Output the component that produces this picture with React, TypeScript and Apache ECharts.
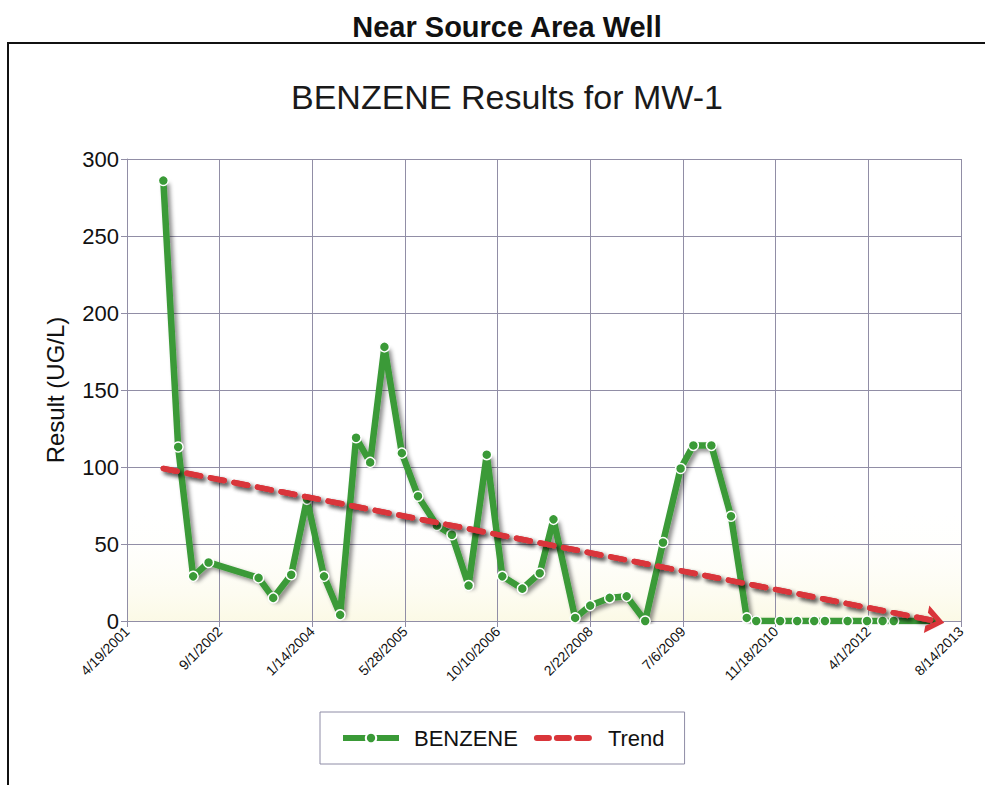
import React, { useEffect, useRef } from "react";
import * as echarts from "echarts";

// Sampling dates (M/D/YYYY) and benzene results (UG/L)
const sampleDates = [
  "2001-11-01", "2002-01-20", "2002-04-11", "2002-07-03", "2003-03-30", "2003-06-17",
  "2003-09-22", "2003-12-16", "2004-03-17", "2004-06-12", "2004-09-06", "2004-11-21",
  "2005-02-06", "2005-05-11", "2005-08-06", "2005-11-16", "2006-02-05", "2006-05-06",
  "2006-08-12", "2006-11-04", "2007-02-20", "2007-05-25", "2007-08-07", "2007-12-02",
  "2008-02-21", "2008-06-05", "2008-09-05", "2008-12-14", "2009-03-20", "2009-06-23",
  "2009-08-31", "2009-12-06", "2010-03-22", "2010-06-15", "2010-08-05", "2010-12-12",
  "2011-03-14", "2011-06-14", "2011-08-11", "2011-12-11", "2012-03-25", "2012-06-17",
  "2012-08-16", "2013-03-29",
];
const benzene = [
  286, 113, 29, 38, 28, 15,
  30, 79, 29, 4, 119, 103,
  178, 109, 81, 62, 56, 23,
  108, 29, 21, 31, 66, 2,
  10, 15, 16, 0, 51, 99,
  114, 114, 68, 2, 0, 0,
  0, 0, 0, 0, 0, 0,
  0, 0,
];
const trendDates = ["2001-11-01", "2013-03-29"];
const trendValues = [99, 0];

const xTickLabels = [
  "4/19/2001", "9/1/2002", "1/14/2004", "5/28/2005", "10/10/2006",
  "2/22/2008", "7/6/2009", "11/18/2010", "4/1/2012", "8/14/2013",
];
const yTicks = [0, 50, 100, 150, 200, 250, 300];

const START = Date.UTC(2001, 3, 19);
const DAY = 86400000;
const TICK_DAYS = 500;

function toDays(s: string): number {
  const [y, m, d] = s.split("-").map(Number);
  return Math.round((Date.UTC(y, m - 1, d) - START) / DAY);
}

const FONT = "'Liberation Sans', Arial, Helvetica, sans-serif";
const GREEN = "#3a9a37";
const RED = "#d9353a";
const GRIDC = "#918ea6";

export default function App() {
  const ref = useRef<HTMLDivElement>(null);
  useEffect(() => {
    if (!ref.current) return;
    const chart = echarts.init(ref.current, undefined, { renderer: "svg" });
    const benzeneData = sampleDates.map((d, i) => [toDays(d), benzene[i]]);
    const trendData = trendDates.map((d, i) => [toDays(d), trendValues[i]]);
    const lineShadow = {
      shadowColor: "rgba(0,0,0,0.45)",
      shadowBlur: 4,
      shadowOffsetX: 3,
      shadowOffsetY: 3,
    };
    chart.setOption({
      animation: false,
      backgroundColor: "#ffffff",
      textStyle: { fontFamily: FONT },
      title: [
        {
          text: "Near Source Area Well",
          left: 502,
          top: 7,
          textAlign: "center",
          textStyle: { fontFamily: FONT, fontSize: 29, fontWeight: "bold", color: "#111" },
        },
        {
          text: "BENZENE Results for MW-1",
          left: 502,
          top: 75,
          textAlign: "center",
          textStyle: { fontFamily: FONT, fontSize: 34, fontWeight: "normal", color: "#1a1a1a" },
        },
      ],
      graphic: [
        {
          type: "rect",
          shape: { x: 8, y: 43, width: 1000, height: 800 },
          style: { fill: "none", stroke: "#111", lineWidth: 2 },
          silent: true,
          z: -1,
        },
      ],
      legend: {
        left: 320,
        top: 712,
        padding: [15, 20, 15, 20],
        borderColor: "#8e8ca6",
        borderWidth: 1,
        itemWidth: 56,
        itemHeight: 13,
        itemGap: 16,
        textStyle: { fontFamily: FONT, fontSize: 22, color: "#111", padding: [0, 0, 0, 10] },
        data: [
          { name: "BENZENE", lineStyle: { width: 6 } },
          { name: "Trend", lineStyle: { width: 6, type: [12, 8] }, itemStyle: { opacity: 0 } },
        ],
      },
      grid: {
        left: 127,
        top: 159,
        width: 834,
        height: 462,
        show: true,
        borderWidth: 0,
        backgroundColor: {
          type: "linear",
          x: 0, y: 0, x2: 0, y2: 1,
          colorStops: [
            { offset: 0, color: "rgba(255,255,255,0)" },
            { offset: 0.75, color: "rgba(255,255,255,0)" },
            { offset: 1, color: "rgba(248,244,205,0.5)" },
          ],
        },
      },
      xAxis: {
        type: "value",
        min: 0,
        max: TICK_DAYS * (xTickLabels.length - 1),
        interval: TICK_DAYS,
        axisLine: { show: true, lineStyle: { color: GRIDC, width: 1 } },
        axisTick: { show: true, length: 6, lineStyle: { color: GRIDC } },
        splitLine: { show: true, lineStyle: { color: GRIDC, width: 1 } },
        axisLabel: {
          rotate: 45,
          fontFamily: FONT,
          fontSize: 14,
          color: "#111",
          margin: 8,
          formatter: (v: number) => xTickLabels[Math.round(v / TICK_DAYS)] ?? "",
        },
      },
      yAxis: {
        type: "value",
        min: yTicks[0],
        max: yTicks[yTicks.length - 1],
        interval: 50,
        name: "Result (UG/L)",
        nameLocation: "middle",
        nameGap: 60,
        nameTextStyle: { fontFamily: FONT, fontSize: 24, color: "#111" },
        axisLine: { show: true, lineStyle: { color: GRIDC, width: 1 } },
        axisTick: { show: true, length: 6, lineStyle: { color: GRIDC } },
        splitLine: { show: true, lineStyle: { color: GRIDC, width: 1 } },
        axisLabel: { fontFamily: FONT, fontSize: 22, color: "#111", margin: 8 },
      },
      series: [
        {
          name: "BENZENE",
          type: "line",
          data: benzeneData,
          symbol: "circle",
          symbolSize: 10,
          showSymbol: true,
          z: 3,
          lineStyle: { color: GREEN, width: 6.5, ...lineShadow },
          itemStyle: { color: GREEN, borderColor: "#ffffff", borderWidth: 1.5 },
        },
        {
          name: "Trend",
          type: "line",
          data: trendData,
          showSymbol: false,
          symbol: "none",
          z: 4,
          lineStyle: { color: RED, width: 5.5, type: [14, 10], cap: "round", ...lineShadow },
          itemStyle: { color: RED },
          markLine: {
            silent: true,
            symbol: ["none", "path://M0,10 L5,0 L10,10 L7.4,10 L5,4.6 L2.6,10 Z"],
            symbolSize: [28, 18],
            label: { show: false },
            lineStyle: { color: RED, width: 5.5, type: [14, 10], cap: "round", ...lineShadow },
            data: [[{ coord: trendData[0] }, { coord: trendData[1] }]],
          },
        },
      ],
    });
    return () => chart.dispose();
  }, []);
  return (
    <div
      ref={ref}
      style={{ position: "absolute", left: 0, top: 0, width: 985, height: 785 }}
    />
  );
}
